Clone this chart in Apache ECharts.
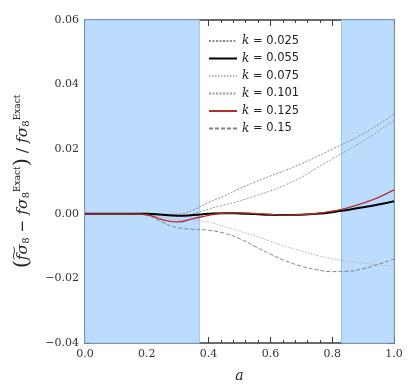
<!DOCTYPE html>
<html>
<head>
<meta charset="utf-8">
<script src="https://cdn.jsdelivr.net/npm/echarts@6/dist/echarts.min.js"></script>
<style>
  html, body { margin: 0; padding: 0; background: #fff; }
  #chart { width: 415px; height: 390px; }
</style>
</head>
<body>
<div id="chart"></div>
<script>
let aValues = [0, 0.05, 0.1, 0.15, 0.2, 0.25, 0.3, 0.35, 0.4, 0.45, 0.5,
  0.55, 0.6, 0.65, 0.7, 0.75, 0.8, 0.85, 0.9, 0.95, 1.0];

let k025 = [0, 0, 0, 0, 0, -0.0001, -0.0001, 0.0012, 0.0035, 0.0055, 0.0078,
  0.0098, 0.0117, 0.0135, 0.0155, 0.0177, 0.02, 0.0223, 0.0248, 0.0277, 0.031];
let k055 = [0, 0, 0, 0, 0, -0.0003, -0.0006, -0.0004, 0, 0.0002, 0.0001,
  -0.0001, -0.0003, -0.0004, -0.0003, 0, 0.0005, 0.0012, 0.002, 0.0029, 0.0039];
let k075 = [0, 0, 0, 0, -0.0003, -0.0012, -0.0018, -0.002, -0.0026, -0.0039, -0.0054,
  -0.0068, -0.0085, -0.0101, -0.0115, -0.0129, -0.0139, -0.0147, -0.0153, -0.0158, -0.0162];
let k101 = [0, 0, 0, 0, 0, -0.0004, -0.0008, 0, 0.0015, 0.0027, 0.004,
  0.0055, 0.0071, 0.009, 0.0113, 0.0142, 0.017, 0.0197, 0.0225, 0.0256, 0.0289];
let k125 = [0, 0, 0, 0, -0.0003, -0.0018, -0.0025, -0.0015, -0.0005, 0.0002, 0.0003,
  0.0001, -0.0002, -0.0004, -0.0003, 0.0001, 0.0008, 0.0018, 0.0033, 0.0051, 0.0074];
let k150 = [0, 0, 0, 0, -0.0005, -0.0026, -0.0043, -0.0048, -0.0051, -0.006, -0.0077,
  -0.0101, -0.0125, -0.0146, -0.0162, -0.0173, -0.0179, -0.0178, -0.017, -0.0156, -0.014];

let bands = [[0, 0.37], [0.83, 1.0]];

let yTicks = [-0.04, -0.02, 0.0, 0.02, 0.04, 0.06];

function pairs(vals) {
  return aValues.map(function (a, i) { return [a, vals[i]]; });
}

let chart = echarts.init(document.getElementById("chart"));

let serif = "DejaVu Serif";
let frame = "#3a3a3a";

let axisLine = { show: true, onZero: false, lineStyle: { color: frame, width: 1.5 } };
let axisTick = { show: true, inside: true, length: 6, lineStyle: { color: frame } };

function minor(n) {
  return { show: true, splitNumber: n, length: 3, lineStyle: { color: frame } };
}

function mkSeries(name, vals, color, width, type, z) {
  return {
    name: name,
    type: "line",
    data: pairs(vals),
    smooth: true,
    symbol: "none",
    z: z,
    lineStyle: { color: color, width: width, type: type },
    itemStyle: { color: color },
  };
}

let series = [
  mkSeries("k = 0.025", k025, "#8c8c8c", 1, [2, 1.5], 3),
  mkSeries("k = 0.055", k055, "#000000", 2, "solid", 5),
  mkSeries("k = 0.075", k075, "#b4b4b4", 1, [1.5, 1.5], 3),
  mkSeries("k = 0.101", k101, "#9a9a9a", 1, [2, 1.5], 3),
  mkSeries("k = 0.125", k125, "#b03030", 1.3, "solid", 6),
  mkSeries("k = 0.15", k150, "#808080", 1, [4, 2], 3),
];

// shaded bands
series.push({
  type: "line",
  data: [],
  silent: true,
  markArea: {
    silent: true,
    itemStyle: { color: "#bcdcfd", borderColor: "#93c4f3", borderWidth: 1 },
    data: bands.map(function (b) { return [{ xAxis: b[0] }, { xAxis: b[1] }]; }),
  },
  z: 1,
});

let option = {
  animation: false,
  grid: { left: 85, right: 21, top: 20, bottom: 47 },
  legend: {
    orient: "vertical",
    left: 203,
    top: 30,
    itemWidth: 28,
    itemHeight: 10,
    itemGap: 5.5,
    itemStyle: { opacity: 0 },
    data: series.slice(0, 6).map(function (s) { return s.name; }),
    formatter: function (name) {
      return "{k|k}{t|" + name.slice(1) + "}";
    },
    textStyle: {
      rich: {
        k: { fontFamily: serif, fontStyle: "italic", fontSize: 12, color: "#222" },
        t: { fontFamily: "DejaVu Sans", fontSize: 11.5, color: "#222" },
      },
    },
  },
  xAxis: [
    {
      type: "value",
      min: 0,
      max: 1,
      interval: 0.2,
      axisLine: axisLine,
      axisTick: axisTick,
      minorTick: minor(5),
      splitLine: { show: false },
      axisLabel: {
        fontFamily: serif, fontSize: 11, color: "#333", margin: 6,
        formatter: function (v) { return v.toFixed(1); },
      },
      name: "a",
      nameLocation: "middle",
      nameGap: 26,
      nameTextStyle: { fontFamily: serif, fontStyle: "italic", fontSize: 14, color: "#222" },
    },
    {
      type: "value",
      position: "top",
      min: 0,
      max: 1,
      interval: 0.2,
      axisLine: axisLine,
      axisTick: axisTick,
      minorTick: minor(5),
      splitLine: { show: false },
      axisLabel: { show: false },
    },
  ],
  yAxis: [
    {
      type: "value",
      min: yTicks[0],
      max: yTicks[yTicks.length - 1],
      interval: 0.02,
      axisLine: axisLine,
      axisTick: axisTick,
      minorTick: minor(4),
      splitLine: { show: false },
      axisLabel: {
        fontFamily: serif, fontSize: 11, color: "#333", margin: 6,
        formatter: function (v) {
          let s = Math.abs(v).toFixed(2);
          return v < -1e-9 ? "\u2212" + s : s;
        },
      },
      name: "{p|(}{i|f\u0360\u03c3}{s|8}{m| \u2212 }{i|f\u03c3}{s|8}{e|Exact}{p|)}{m| / }{i|f\u03c3}{s|8}{e|Exact}",
      nameLocation: "middle",
      nameGap: 52,
      nameTextStyle: {
        color: "#222",
        rich: {
          p: { fontFamily: serif, fontSize: 21, color: "#222" },
          i: { fontFamily: serif, fontStyle: "italic", fontSize: 15.5, color: "#222" },
          s: { fontFamily: serif, fontSize: 10, color: "#222", padding: [8, 0, 0, 0] },
          e: { fontFamily: serif, fontSize: 9, color: "#222", padding: [0, 0, 10, 0] },
          m: { fontFamily: serif, fontSize: 15.5, color: "#222" },
        },
      },
    },
    {
      type: "value",
      position: "right",
      min: yTicks[0],
      max: yTicks[yTicks.length - 1],
      interval: 0.02,
      axisLine: axisLine,
      axisTick: axisTick,
      minorTick: minor(4),
      splitLine: { show: false },
      axisLabel: { show: false },
    },
  ],
  series: series,
};

chart.setOption(option);
</script>
</body>
</html>
